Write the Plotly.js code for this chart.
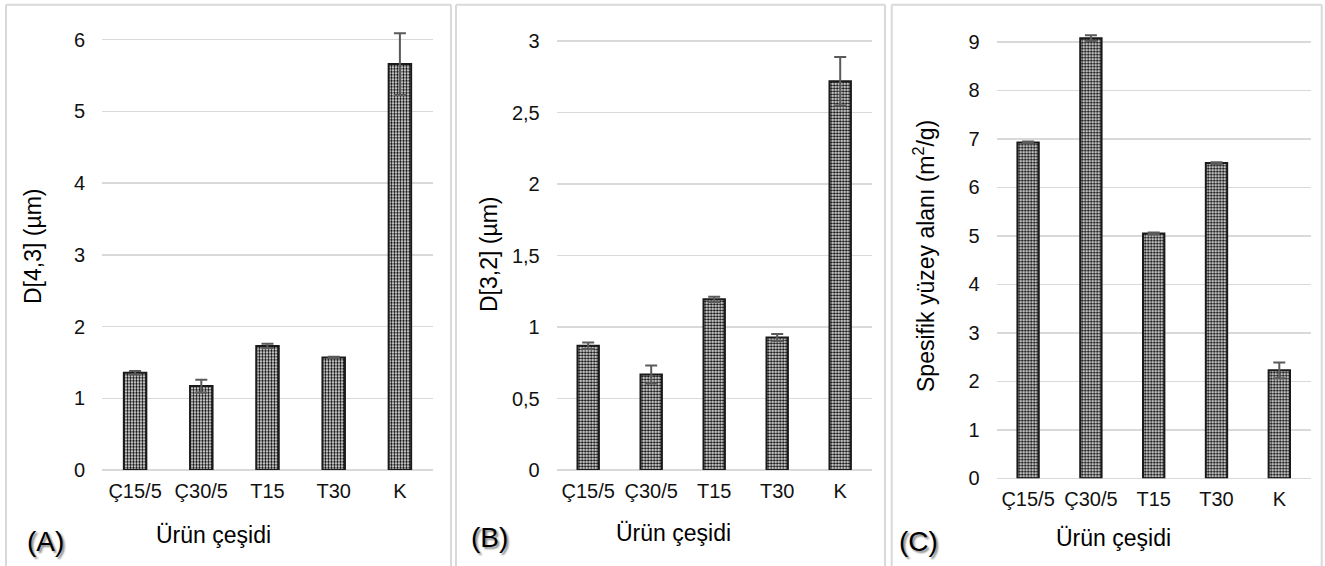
<!DOCTYPE html>
<html>
<head>
<meta charset="utf-8">
<script src="https://cdn.plot.ly/plotly-3.0.1.min.js"></script>
<style>
  html, body { margin: 0; padding: 0; background: #fff; }
  #chart { width: 1325px; height: 566px; }
</style>
</head>
<body>
<div id="chart"></div>
<script>
// ---- Data ----
const categories = ["Ç15/5", "Ç30/5", "T15", "T30", "K"];

const d43Values = [1.355, 1.17, 1.73, 1.57, 5.66];
const d43Errors = [0.025, 0.09, 0.03, 0.01, 0.43];

const d32Values = [0.869, 0.669, 1.194, 0.927, 2.72];
const d32Errors = [0.023, 0.063, 0.018, 0.025, 0.169];

const ssaValues = [6.925, 9.077, 5.048, 6.50, 2.226];
const ssaErrors = [0.02, 0.06, 0.02, 0.02, 0.164];

const yTitles = ["D[4,3] (µm)", "D[3,2] (µm)", "Spesifik yüzey alanı (m<sup>2</sup>/g)"];
const xTitle = "Ürün çeşidi";
const panelLabels = ["(A)", "(B)", "(C)"];

// ---- Layout helpers ----
const W = 1325, H = 566;
const px = v => v / W;
const py = v => 1 - v / H;
const FONT = "Liberation Sans, Arial, sans-serif";

function barTrace(vals, errs, xa, ya) {
  return {
    type: "bar",
    x: categories,
    y: vals,
    xaxis: xa,
    yaxis: ya,
    cliponaxis: false,
    marker: {
      color: "#ffffff",
      line: { color: "#1a1a1a", width: 2 },
      pattern: { shape: ".", fgcolor: "#000000", bgcolor: "#ffffff", size: 3, solidity: 0.5, fillmode: "replace" }
    },
    error_y: { type: "data", array: errs, visible: true, color: "#5a5a5a", thickness: 2, width: 6 },
    hoverinfo: "none",
    showlegend: false
  };
}

const data = [
  barTrace(d43Values, d43Errors, "x", "y"),
  barTrace(d32Values, d32Errors, "x2", "y2"),
  barTrace(ssaValues, ssaErrors, "x3", "y3")
];

function xAxis(domain, anchor) {
  return {
    domain: domain, anchor: anchor, type: "category",
    showgrid: false, zeroline: false, showline: false, ticks: "",
    ticklabelstandoff: 7,
    tickfont: { family: FONT, size: 20, color: "#111" },
    fixedrange: true
  };
}
function yAxis(domain, anchor, range, dtick) {
  return {
    domain: domain, anchor: anchor, range: range, dtick: dtick, tick0: 0,
    showgrid: true, gridcolor: "#d9d9d9", gridwidth: 1.5,
    zeroline: true, zerolinecolor: "#d9d9d9", zerolinewidth: 1.5,
    showline: false, ticks: "",
    ticklabelstandoff: 16,
    tickfont: { family: FONT, size: 20, color: "#111" },
    fixedrange: true
  };
}

const panelXs = [[6, 451], [456, 885], [891.7, 1321.7]];
const shapes = [];
panelXs.forEach(([l, r]) => {
  const line = { color: "#d9d9d9", width: 2 };
  shapes.push({ type: "line", xref: "paper", yref: "paper", x0: px(l), x1: px(l), y0: py(4.7), y1: -0.05, line });
  shapes.push({ type: "line", xref: "paper", yref: "paper", x0: px(r), x1: px(r), y0: py(4.7), y1: -0.05, line });
  shapes.push({ type: "line", xref: "paper", yref: "paper", x0: px(l), x1: px(r), y0: py(4.7), y1: py(4.7), line });
});

const yTitlePos = [[33, 247], [489, 255], [924, 256]];
const xTitlePos = [[214, 535], [673, 533], [1113.5, 538]];
const labelPos = [[45, 541], [489.5, 537.5], [918.5, 541]];

const annotations = [];
for (let i = 0; i < 3; i++) {
  annotations.push({
    xref: "paper", yref: "paper", x: px(yTitlePos[i][0]), y: py(yTitlePos[i][1]),
    xanchor: "center", yanchor: "middle", textangle: -90, showarrow: false,
    text: yTitles[i], font: { family: FONT, size: 23, color: "#000" }
  });
  annotations.push({
    xref: "paper", yref: "paper", x: px(xTitlePos[i][0]), y: py(xTitlePos[i][1]),
    xanchor: "center", yanchor: "middle", showarrow: false,
    text: xTitle, font: { family: FONT, size: 23, color: "#000" }
  });
  annotations.push({
    xref: "paper", yref: "paper", x: px(labelPos[i][0]), y: py(labelPos[i][1]),
    xanchor: "center", yanchor: "middle", showarrow: false,
    text: panelLabels[i], font: { family: FONT, size: 28, color: "#000", shadow: "2px 2px 2px #888" }
  });
}

// Ranges extend a little above the top gridline so tall bars / error caps are not clipped.
// Domain tops are placed so that the top gridline (6, 3, 9) stays where the reference draws it.
const layout = {
  width: W, height: H,
  margin: { l: 0, r: 0, t: 0, b: 0, pad: 0 },
  paper_bgcolor: "#ffffff", plot_bgcolor: "#ffffff",
  separators: ", ",
  bargap: 0.66,
  font: { family: FONT, color: "#111" },
  xaxis: xAxis([px(102), px(433)], "y"),
  yaxis: yAxis([py(470), py(470 - 6.2 * (470 - 39.7) / 6)], "x", [0, 6.2], 1),
  xaxis2: xAxis([px(556.7), px(871.7)], "y2"),
  yaxis2: yAxis([py(470), py(470 - 3.1 * (470 - 41.2) / 3)], "x2", [0, 3.1], 0.5),
  xaxis3: xAxis([px(996.7), px(1310.7)], "y3"),
  yaxis3: yAxis([py(478.3), py(478.3 - 9.2 * (478.3 - 41.9) / 9)], "x3", [0, 9.2], 1),
  shapes: shapes,
  annotations: annotations
};

Plotly.newPlot("chart", data, layout, { displayModeBar: false, staticPlot: true });
</script>
</body>
</html>
